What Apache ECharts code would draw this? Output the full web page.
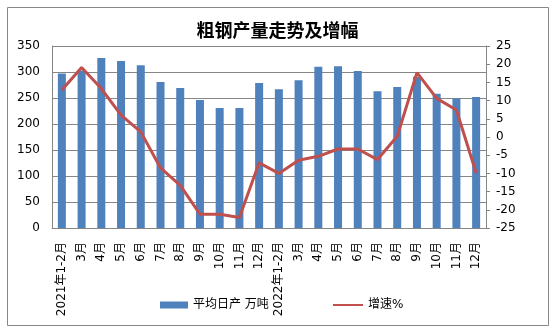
<!DOCTYPE html>
<html>
<head>
<meta charset="utf-8">
<script src="https://cdn.jsdelivr.net/npm/echarts@6/dist/echarts.min.js"></script>
<style>html,body{margin:0;padding:0;background:#fff;}#c{width:555px;height:331px;}</style>
</head>
<body>
<div id="c"></div>
<script>
const categories = ['2021年1-2月','3月','4月','5月','6月','7月','8月','9月','10月','11月','12月',
  '2022年1-2月','3月','4月','5月','6月','7月','8月','9月','10月','11月','12月'];
const dailyOutput = [297,303,327,321,313,281,269,246,231,231,279,267,284,310,311,302,263,271,291,258,249,252];
const growthRate = [12.9,19.1,13.3,6.0,1.4,-8.5,-13.3,-21.2,-21.2,-22.1,-7.1,-10.0,-6.4,-5.3,-3.3,-3.3,-6.2,0.2,17.7,10.6,7.4,-9.9];
const leftTicks = {min:0, max:350, interval:50};
const rightTicks = {min:-25, max:25, interval:5};

const font = '"DejaVu Sans","Noto Sans CJK SC",sans-serif';
const chart = echarts.init(document.getElementById('c'), null, {renderer:'canvas'});
chart.setOption({
  animation:false,
  backgroundColor:'#fff',
  graphic:[{type:'rect',shape:{x:7.5,y:7.5,width:541,height:318},style:{fill:'none',stroke:'#888',lineWidth:1},silent:true}],
  title:{text:'粗钢产量走势及增幅',left:'center',top:16,
    textStyle:{fontSize:18,fontWeight:'bold',color:'#000',fontFamily:'"Noto Sans CJK SC",sans-serif'}},
  grid:{left:52,right:69,top:46,bottom:103,containLabel:false},
  legend:[
    {data:['平均日产 万吨'],left:155,top:294,itemWidth:28,itemHeight:7,icon:'rect',
      textStyle:{fontSize:12,color:'#000',fontFamily:font},itemGap:4},
    {data:['增速%'],left:328,top:294,itemWidth:30,itemHeight:2,icon:'rect',
      textStyle:{fontSize:12,color:'#000',fontFamily:font}}
  ],
  xAxis:{type:'category',data:categories,
    axisLine:{lineStyle:{color:'#868686'}},axisTick:{show:false},
    axisLabel:{rotate:90,interval:0,fontSize:12,color:'#000',fontFamily:font,margin:14}},
  yAxis:[
    {type:'value',min:leftTicks.min,max:leftTicks.max,interval:leftTicks.interval,
      axisLine:{show:true,lineStyle:{color:'#868686'}},axisTick:{show:false},
      splitLine:{lineStyle:{color:'#868686'}},
      axisLabel:{fontSize:12,color:'#000',fontFamily:font,margin:12}},
    {type:'value',min:rightTicks.min,max:rightTicks.max,interval:rightTicks.interval,position:'right',
      axisLine:{show:true,lineStyle:{color:'#868686'}},axisTick:{show:true,length:4,lineStyle:{color:'#868686'}},
      splitLine:{show:false},
      axisLabel:{fontSize:12,color:'#000',fontFamily:font,margin:10}}
  ],
  series:[
    {name:'平均日产 万吨',type:'bar',data:dailyOutput,barWidth:8,itemStyle:{color:'#4F81BD'}},
    {name:'增速%',type:'line',yAxisIndex:1,data:growthRate,symbol:'none',
      lineStyle:{color:'#C0504D',width:3},itemStyle:{color:'#C0504D'}}
  ]
});
</script>
</body>
</html>
